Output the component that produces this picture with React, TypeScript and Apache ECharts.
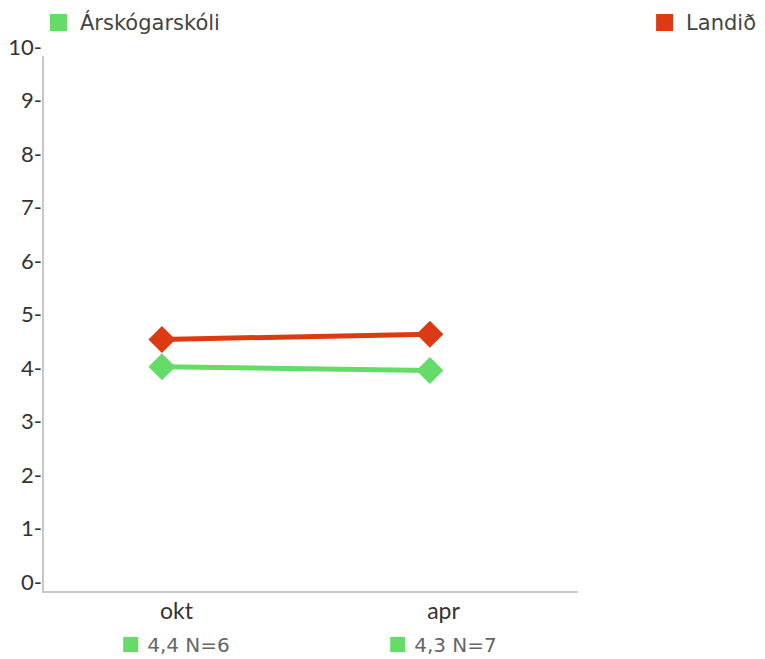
import React, { useEffect, useRef } from "react";
import * as echarts from "echarts";

const categories = ["okt", "apr"];
const schoolName = "Árskógarskóli";
const nationalName = "Landið";
const schoolValues = [4.21, 4.14];
const nationalValues = [4.72, 4.82];
const schoolAverages = ["4,4", "4,3"];
const schoolN = [6, 7];
const yTicks = [0, 10, 1];

const GREEN = "#65dc67";
const RED = "#dc3a12";
const FONT = "Lato";
const WIDE = "DejaVu Sans";

export default function App() {
  const ref = useRef<HTMLDivElement>(null);
  useEffect(() => {
    if (!ref.current) return;
    const chart = echarts.init(ref.current, undefined, { renderer: "svg" });
    const legendText = { fontFamily: WIDE, fontSize: 21, color: "#444", padding: [0, 0, 0, 8] };
    chart.setOption({
      animation: false,
      textStyle: { fontFamily: FONT },
      grid: { left: 43, right: 188, top: 57, bottom: 67, containLabel: false },
      legend: [
        {
          data: [schoolName],
          left: 50,
          top: 12,
          padding: 0,
          icon: "rect",
          itemWidth: 17,
          itemHeight: 17,
          textStyle: legendText,
        },
        {
          data: [nationalName],
          right: 9,
          top: 12,
          padding: 0,
          icon: "rect",
          itemWidth: 17,
          itemHeight: 17,
          textStyle: legendText,
        },
      ],
      xAxis: [
        {
          type: "category",
          data: categories,
          boundaryGap: true,
          splitLine: { show: false },
          axisTick: { show: false },
          axisLine: { show: true, lineStyle: { color: "#c8c8c8", width: 2 } },
          axisLabel: {
            margin: 4,
            formatter: (v: string) => {
              const i = categories.indexOf(v);
              return `{cat|${v}}\n{sq|}{n|${schoolAverages[i]} N=${schoolN[i]}}`;
            },
            rich: {
              cat: { fontFamily: FONT, fontSize: 23, color: "#333", lineHeight: 28 },
              sq: { width: 15, height: 15, backgroundColor: GREEN },
              n: { fontFamily: WIDE, fontSize: 20, color: "#666", padding: [0, 0, 0, 9], lineHeight: 41 },
            },
          },
        },
        {
          type: "value",
          min: -0.444,
          max: 1.549,
          show: false,
          splitLine: { show: false },
        },
      ],
      yAxis: {
        type: "value",
        min: yTicks[0],
        max: yTicks[1],
        interval: yTicks[2],
        splitLine: { show: false },
        axisTick: { show: false },
        axisLine: { show: true, onZero: false, lineStyle: { color: "#c8c8c8", width: 2 } },
        axisLabel: {
          margin: 1,
          fontSize: 22,
          fontFamily: FONT,
          color: "#333",
          verticalAlign: "bottom",
          lineHeight: 22,
          formatter: (v: number) => `${v}-`,
        },
      },
      series: [
        {
          name: schoolName,
          type: "line",
          xAxisIndex: 1,
          data: categories.map((_, i) => [i, schoolValues[i]]),
          symbol: "diamond",
          symbolSize: 27,
          lineStyle: { width: 5, color: GREEN },
          itemStyle: { color: GREEN },
          z: 3,
        },
        {
          name: nationalName,
          type: "line",
          xAxisIndex: 1,
          data: categories.map((_, i) => [i, nationalValues[i]]),
          symbol: "diamond",
          symbolSize: 27,
          lineStyle: { width: 5, color: RED },
          itemStyle: { color: RED },
          z: 4,
        },
      ],
    });
    return () => chart.dispose();
  }, []);
  return (
    <div
      ref={ref}
      style={{ position: "absolute", left: 0, top: 0, width: 765, height: 659 }}
    />
  );
}
